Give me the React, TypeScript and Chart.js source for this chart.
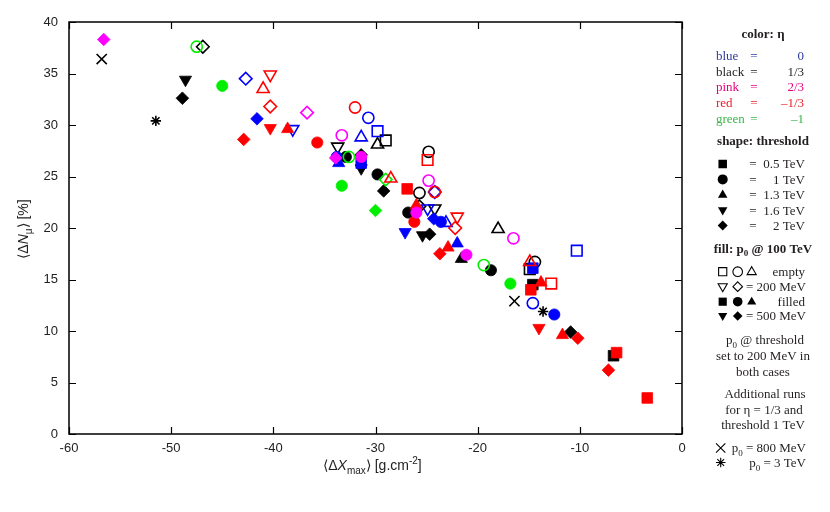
import React, { useEffect, useRef } from "react";
import { Chart, registerables } from "chart.js";
Chart.register(...registerables);

// [x, y, shape, filled]  shape: s=square c=circle t=up-triangle v=down-triangle d=diamond x=cross *=asterisk
type Pt = [number, number, string, number];

const bluePoints: Pt[] = [
  [-42.7, 34.5, "d", 0],
  [-41.6, 30.6, "d", 1],
  [-38.1, 29.6, "v", 0],
  [-30.7, 30.7, "c", 0],
  [-29.8, 29.4, "s", 0],
  [-31.4, 28.8, "t", 0],
  [-33.8, 26.9, "c", 1],
  [-33.6, 26.3, "t", 1],
  [-31.4, 26.3, "s", 1],
  [-24.9, 21.9, "v", 0],
  [-24.3, 20.9, "d", 1],
  [-23.6, 20.6, "c", 1],
  [-23.1, 20.5, "t", 0],
  [-24.2, 23.5, "d", 0],
  [-27.1, 19.6, "v", 1],
  [-22.0, 18.5, "t", 1],
  [-10.3, 17.8, "s", 0],
  [-14.6, 16.1, "s", 1],
  [-14.6, 12.7, "c", 0],
  [-12.5, 11.6, "c", 1],
];

const blackPoints: Pt[] = [
  [-56.8, 36.4, "x", 0],
  [-46.9, 37.6, "d", 0],
  [-48.6, 34.4, "v", 1],
  [-48.9, 32.6, "d", 1],
  [-51.5, 30.4, "*", 0],
  [-29.0, 28.5, "s", 0],
  [-29.8, 28.1, "t", 0],
  [-33.7, 27.9, "v", 0],
  [-32.9, 26.9, "c", 1],
  [-31.4, 27.1, "d", 1],
  [-31.4, 25.8, "v", 1],
  [-29.8, 25.2, "c", 1],
  [-29.2, 23.6, "d", 1],
  [-24.8, 27.4, "c", 0],
  [-25.7, 23.4, "c", 0],
  [-25.7, 22.1, "d", 0],
  [-26.8, 21.5, "c", 1],
  [-24.2, 21.9, "v", 0],
  [-25.4, 19.3, "v", 1],
  [-24.7, 19.4, "d", 1],
  [-21.6, 17.0, "t", 1],
  [-18.0, 19.9, "t", 0],
  [-18.7, 15.9, "c", 1],
  [-14.4, 16.7, "c", 0],
  [-14.9, 16.0, "s", 0],
  [-14.6, 14.5, "s", 1],
  [-16.4, 12.9, "x", 0],
  [-13.6, 11.9, "*", 0],
  [-10.9, 9.9, "d", 1],
  [-6.7, 7.6, "s", 1],
];

const pinkPoints: Pt[] = [
  [-56.6, 38.3, "d", 1],
  [-36.7, 31.2, "d", 0],
  [-33.3, 29.0, "c", 0],
  [-33.9, 26.8, "d", 1],
  [-31.4, 26.9, "c", 1],
  [-24.8, 24.6, "c", 0],
  [-26.0, 21.5, "c", 1],
  [-21.1, 17.4, "c", 1],
  [-16.5, 19.0, "c", 0],
];

const redPoints: Pt[] = [
  [-40.3, 34.9, "v", 0],
  [-41.0, 33.5, "t", 0],
  [-40.3, 31.8, "d", 0],
  [-40.3, 29.7, "v", 1],
  [-42.9, 28.6, "d", 1],
  [-38.6, 29.6, "t", 1],
  [-35.7, 28.3, "c", 1],
  [-32.0, 31.7, "c", 0],
  [-28.5, 24.8, "t", 0],
  [-26.9, 23.8, "s", 1],
  [-24.9, 26.6, "s", 0],
  [-24.2, 23.5, "c", 0],
  [-26.0, 22.2, "t", 1],
  [-26.2, 20.6, "c", 1],
  [-22.0, 21.1, "v", 0],
  [-22.2, 20.0, "d", 0],
  [-22.9, 18.1, "t", 1],
  [-23.7, 17.5, "d", 1],
  [-14.9, 16.7, "t", 0],
  [-13.8, 14.7, "t", 1],
  [-12.8, 14.6, "s", 0],
  [-14.8, 14.0, "s", 1],
  [-14.0, 10.3, "v", 1],
  [-11.7, 9.6, "t", 1],
  [-10.2, 9.3, "d", 1],
  [-6.4, 7.9, "s", 1],
  [-7.2, 6.2, "d", 1],
  [-3.4, 3.5, "s", 1],
];

const greenPoints: Pt[] = [
  [-47.5, 37.6, "c", 0],
  [-45.0, 33.8, "c", 1],
  [-32.6, 26.9, "c", 0],
  [-33.3, 24.1, "c", 1],
  [-29.0, 24.7, "d", 0],
  [-30.0, 21.7, "d", 1],
  [-19.4, 16.4, "c", 0],
  [-16.8, 14.6, "c", 1],
];

const xTicks = [-60, -50, -40, -30, -20, -10, 0];
const yTicks = [0, 5, 10, 15, 20, 25, 30, 35, 40];

const colorNames = ["blue", "black", "pink", "red", "green"];
const etaLabels = ["0", "1/3", "2/3", "\u20131/3", "\u20131"];
const thresholdShapes = ["s", "c", "t", "v", "d"];
const thresholdLabels = ["0.5 TeV", "1 TeV", "1.3 TeV", "1.6 TeV", "2 TeV"];

const MARK: Record<string, string> = {
  blue: "#0000ff",
  black: "#000000",
  pink: "#ff00ff",
  red: "#ff0000",
  green: "#00ee00",
};
const TEXTC: Record<string, string> = {
  blue: "#2b3a9a",
  black: "#231f20",
  pink: "#e6007e",
  red: "#e8202a",
  green: "#3cb44b",
};

const SERIF = '"Liberation Serif", "Times New Roman", serif';
const SANS = '"Liberation Sans", Arial, sans-serif';

type Seg = { t: string; sub?: boolean; sup?: boolean; it?: boolean };

function segFont(s: Seg, size: number, family: string, bold: boolean) {
  const sz = s.sub || s.sup ? Math.round(size * 0.68) : size;
  return `${s.it ? "italic " : ""}${bold ? "bold " : ""}${sz}px ${family}`;
}

function drawRich(
  ctx: CanvasRenderingContext2D,
  segs: Seg[],
  x: number,
  yMid: number,
  align: "left" | "center" | "right",
  size: number,
  family: string,
  color: string,
  bold = false
) {
  ctx.save();
  ctx.fillStyle = color;
  ctx.textBaseline = "alphabetic";
  ctx.textAlign = "left";
  const y = yMid + size * 0.34;
  let total = 0;
  const widths = segs.map((s) => {
    ctx.font = segFont(s, size, family, bold);
    const w = ctx.measureText(s.t).width;
    total += w;
    return w;
  });
  let cx = align === "center" ? x - total / 2 : align === "right" ? x - total : x;
  segs.forEach((s, i) => {
    ctx.font = segFont(s, size, family, bold);
    const dy = s.sub ? size * 0.28 : s.sup ? -size * 0.42 : 0;
    ctx.fillText(s.t, cx, y + dy);
    cx += widths[i];
  });
  ctx.restore();
}

function marker(
  ctx: CanvasRenderingContext2D,
  shape: string,
  x: number,
  y: number,
  r: number,
  color: string,
  filled: boolean
) {
  ctx.save();
  ctx.strokeStyle = color;
  ctx.fillStyle = color;
  ctx.lineWidth = 1.1;
  ctx.beginPath();
  if (shape === "s") {
    const h = r * 0.85;
    ctx.rect(x - h, y - h, 2 * h, 2 * h);
  } else if (shape === "c") {
    ctx.arc(x, y, r, 0, Math.PI * 2);
  } else if (shape === "t") {
    ctx.moveTo(x, y - r * 1.05);
    ctx.lineTo(x + r * 0.95, y + r * 0.6);
    ctx.lineTo(x - r * 0.95, y + r * 0.6);
    ctx.closePath();
  } else if (shape === "v") {
    ctx.moveTo(x, y + r * 1.05);
    ctx.lineTo(x + r * 0.95, y - r * 0.6);
    ctx.lineTo(x - r * 0.95, y - r * 0.6);
    ctx.closePath();
  } else if (shape === "d") {
    ctx.moveTo(x, y - r);
    ctx.lineTo(x + r, y);
    ctx.lineTo(x, y + r);
    ctx.lineTo(x - r, y);
    ctx.closePath();
  } else if (shape === "x") {
    ctx.moveTo(x - r * 0.75, y - r * 0.75);
    ctx.lineTo(x + r * 0.75, y + r * 0.75);
    ctx.moveTo(x + r * 0.75, y - r * 0.75);
    ctx.lineTo(x - r * 0.75, y + r * 0.75);
  } else if (shape === "*") {
    for (let k = 0; k < 4; k++) {
      const a = (k * Math.PI) / 4;
      ctx.moveTo(x - Math.cos(a) * r, y - Math.sin(a) * r);
      ctx.lineTo(x + Math.cos(a) * r, y + Math.sin(a) * r);
    }
  }
  if (filled && shape !== "x" && shape !== "*") ctx.fill();
  else ctx.stroke();
  ctx.restore();
}

const styleOf = (s: string) =>
  s === "s" ? "rect" : s === "c" ? "circle" : s === "t" || s === "v" ? "triangle" : s === "d" ? "rectRot" : s === "x" ? "crossRot" : "star";
const radiusOf = (s: string) =>
  s === "s" ? 7.5 : s === "c" ? 5.6 : s === "t" || s === "v" ? 7 : s === "d" ? 6.3 : s === "x" ? 7.2 : 5.2;

const frameAndLegend = {
  id: "frameAndLegend",
  afterDraw(chart: any) {
    const ctx: CanvasRenderingContext2D = chart.ctx;
    const { left, right, top, bottom } = chart.chartArea;
    const xs = chart.scales.x;
    const ys = chart.scales.y;
    ctx.save();
    ctx.strokeStyle = "#000";
    ctx.lineWidth = 1.5;
    ctx.strokeRect(left, top, right - left, bottom - top);
    ctx.lineWidth = 1.2;
    ctx.beginPath();
    xTicks.forEach((v) => {
      const px = Math.round(xs.getPixelForValue(v)) + 0.5;
      ctx.moveTo(px, bottom);
      ctx.lineTo(px, bottom - 7);
      ctx.moveTo(px, top);
      ctx.lineTo(px, top + 7);
    });
    yTicks.forEach((v) => {
      const py = Math.round(ys.getPixelForValue(v)) + 0.5;
      ctx.moveTo(left, py);
      ctx.lineTo(left + 7, py);
      ctx.moveTo(right, py);
      ctx.lineTo(right - 7, py);
    });
    ctx.stroke();
    ctx.restore();

    // axis titles
    drawRich(
      ctx,
      [{ t: "\u27E8\u0394" }, { t: "X", it: true }, { t: "max", sub: true }, { t: "\u27E9 [g.cm" }, { t: "-2", sup: true }, { t: "]" }],
      (left + right) / 2 - 3,
      465,
      "center",
      14,
      SANS,
      "#222"
    );
    ctx.save();
    ctx.translate(23, (top + bottom) / 2 + 1);
    ctx.rotate(-Math.PI / 2);
    drawRich(ctx, [{ t: "\u27E8\u0394" }, { t: "N", it: true }, { t: "\u03BC", sub: true }, { t: "\u27E9 [%]" }], 0, 0, "center", 14, SANS, "#222");
    ctx.restore();

    // legend
    const blk = TEXTC.black;
    drawRich(ctx, [{ t: "color: \u03B7" }], 763, 34, "center", 13, SERIF, blk, true);
    colorNames.forEach((c, i) => {
      const y = 55.7 + i * 15.65;
      drawRich(ctx, [{ t: c }], 716, y, "left", 13, SERIF, TEXTC[c]);
      drawRich(ctx, [{ t: "=" }], 754, y, "center", 13, SERIF, TEXTC[c]);
      drawRich(ctx, [{ t: etaLabels[i] }], 804, y, "right", 13, SERIF, TEXTC[c]);
    });
    drawRich(ctx, [{ t: "shape: threshold" }], 763, 140.7, "center", 13, SERIF, blk, true);
    thresholdShapes.forEach((s, i) => {
      const y = 164 + i * 15.4;
      marker(ctx, s, 722.7, y, 5, "#000", true);
      drawRich(ctx, [{ t: "=" }], 753, y, "center", 13, SERIF, blk);
      drawRich(ctx, [{ t: thresholdLabels[i] }], 805, y, "right", 13, SERIF, blk);
    });
    drawRich(ctx, [{ t: "fill: p" }, { t: "0", sub: true }, { t: " @ 100 TeV" }], 763, 248.3, "center", 13, SERIF, blk, true);
    const sx = [722.7, 737.7, 751.7];
    ["s", "c", "t"].forEach((s, i) => marker(ctx, s, sx[i], 271.7, 4.8, "#000", false));
    drawRich(ctx, [{ t: "empty" }], 805, 271.7, "right", 13, SERIF, blk);
    ["v", "d"].forEach((s, i) => marker(ctx, s, sx[i], 286.7, 4.8, "#000", false));
    drawRich(ctx, [{ t: "= 200 MeV" }], 806, 286.7, "right", 13, SERIF, blk);
    ["s", "c", "t"].forEach((s, i) => marker(ctx, s, sx[i], 301.7, 4.8, "#000", true));
    drawRich(ctx, [{ t: "filled" }], 805, 301.7, "right", 13, SERIF, blk);
    ["v", "d"].forEach((s, i) => marker(ctx, s, sx[i], 316, 4.8, "#000", true));
    drawRich(ctx, [{ t: "= 500 MeV" }], 806, 316, "right", 13, SERIF, blk);

    drawRich(ctx, [{ t: "p" }, { t: "0", sub: true }, { t: " @ threshold" }], 765, 340, "center", 13, SERIF, blk);
    drawRich(ctx, [{ t: "set to 200 MeV in" }], 763, 356, "center", 13, SERIF, blk);
    drawRich(ctx, [{ t: "both cases" }], 763, 372, "center", 13, SERIF, blk);
    drawRich(ctx, [{ t: "Additional runs" }], 765, 394, "center", 13, SERIF, blk);
    drawRich(ctx, [{ t: "for \u03B7 = 1/3 and" }], 764, 410, "center", 13, SERIF, blk);
    drawRich(ctx, [{ t: "threshold 1 TeV" }], 763, 425, "center", 13, SERIF, blk);
    marker(ctx, "x", 720.7, 448, 6.2, "#000", false);
    drawRich(ctx, [{ t: "p" }, { t: "0", sub: true }, { t: " = 800 MeV" }], 806, 448, "right", 13, SERIF, blk);
    marker(ctx, "*", 720.7, 462.5, 4.8, "#000", false);
    drawRich(ctx, [{ t: "p" }, { t: "0", sub: true }, { t: " = 3 TeV" }], 806, 462.5, "right", 13, SERIF, blk);
  },
};

export default function App() {
  const ref = useRef<HTMLCanvasElement | null>(null);
  useEffect(() => {
    if (!ref.current) return;
    const groups: [string, Pt[]][] = [
      ["pink", pinkPoints],
      ["red", redPoints],
      ["green", greenPoints],
      ["blue", bluePoints],
      ["black", blackPoints],
    ];
    const datasets = groups.map(([name, pts]) => ({
      label: name,
      data: pts.map((p) => ({ x: p[0], y: p[1] })),
      showLine: false,
      pointStyle: pts.map((p) => styleOf(p[2])) as any,
      pointRotation: pts.map((p) => (p[2] === "v" ? 180 : 0)),
      pointRadius: pts.map((p) => radiusOf(p[2])),
      pointBackgroundColor: pts.map((p) => (p[3] ? MARK[name] : "rgba(0,0,0,0)")),
      pointBorderColor: MARK[name],
      pointBorderWidth: pts.map((p) => (p[3] ? 0.8 : 1.6)),
    }));
    const chart = new Chart(ref.current, {
      type: "scatter",
      data: { datasets },
      plugins: [frameAndLegend],
      options: {
        animation: false,
        responsive: false,
        devicePixelRatio: 1,
        layout: { padding: { left: 8, right: 148, top: 22, bottom: 0 } },
        plugins: { legend: { display: false }, tooltip: { enabled: false } },
        scales: {
          x: {
            type: "linear",
            min: -60,
            max: 0,
            afterBuildTicks: (s: any) => {
              s.ticks = xTicks.map((v) => ({ value: v }));
            },
            afterFit: (s: any) => {
              s.height = 78;
            },
            grid: { display: false, drawTicks: false },
            border: { display: false },
            ticks: { padding: 7, color: "#222", font: { family: SANS, size: 13 }, callback: (v: any) => String(v) },
          },
          y: {
            type: "linear",
            min: 0,
            max: 40,
            afterBuildTicks: (s: any) => {
              s.ticks = yTicks.map((v) => ({ value: v }));
            },
            afterFit: (s: any) => {
              s.width = 61;
            },
            grid: { display: false, drawTicks: false },
            border: { display: false },
            ticks: { padding: 11, color: "#222", font: { family: SANS, size: 13 }, callback: (v: any) => String(v) },
          },
        },
      },
    });
    return () => chart.destroy();
  }, []);
  return (
    <div style={{ position: "absolute", left: 0, top: 0, width: 830, height: 512, background: "#fff" }}>
      <canvas ref={ref} width={830} height={512} style={{ width: 830, height: 512 }} />
    </div>
  );
}
